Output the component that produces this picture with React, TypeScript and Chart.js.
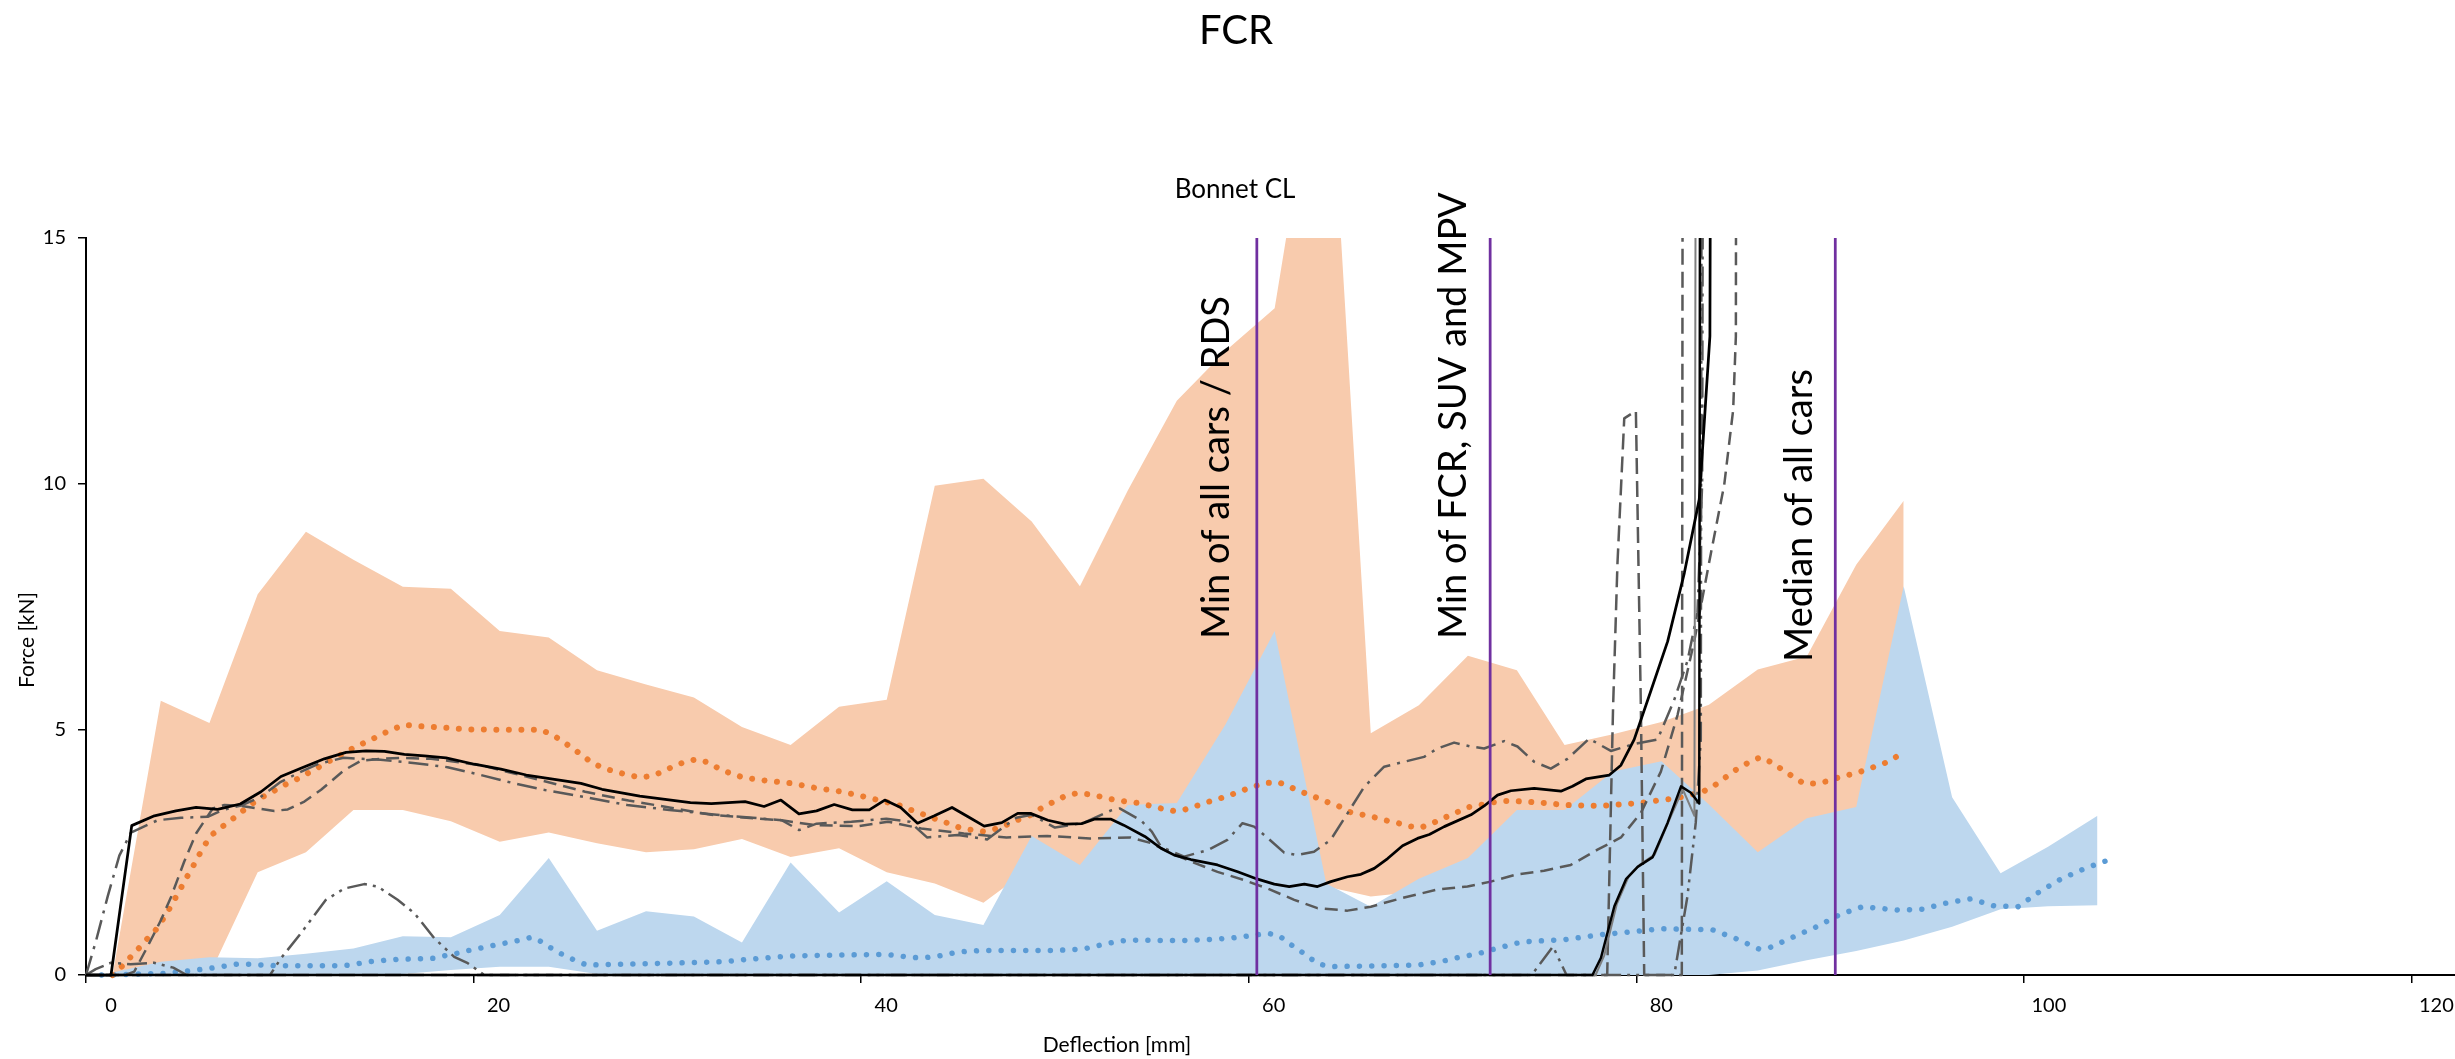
import React, { useEffect, useRef } from 'react';
import { Chart, registerables } from 'chart.js';

Chart.register(...registerables);

type P = [number, number];

const TITLE = 'FCR';
const SUBTITLE = 'Bonnet CL';
const X_TITLE = 'Deflection [mm]';
const Y_TITLE = 'Force [kN]';
const X_TICKS = [0, 20, 40, 60, 80, 100, 120];
const Y_TICKS = [0, 5, 10, 15];

// corridor (band) sample positions
const bandX = [1.37, 3.86, 6.37, 8.86, 11.35, 13.8, 16.35, 18.83, 21.35, 23.88, 26.37, 28.9, 31.37, 33.85, 36.36, 38.86, 41.32, 43.8, 46.31, 48.8, 51.29, 53.76, 56.29, 58.8, 61.34, 64.0, 66.3, 68.78, 71.31, 73.84, 76.3, 78.8, 81.3, 83.75, 86.27, 88.8, 91.35, 93.8];
const orangeHigh = [0, 5.58, 5.13, 7.75, 9.02, 8.45, 7.9, 7.86, 7.0, 6.87, 6.2, 5.91, 5.65, 5.05, 4.68, 5.46, 5.6, 9.96, 10.1, 9.23, 7.91, 9.86, 11.69, 12.7, 13.57, 20.0, 4.92, 5.49, 6.5, 6.2, 4.68, 4.9, 5.15, 5.5, 6.22, 6.48, 8.35, 9.65];
const orangeLow = [0, 0, 0, 2.09, 2.5, 3.36, 3.36, 3.13, 2.71, 2.9, 2.68, 2.5, 2.56, 2.77, 2.4, 2.58, 2.09, 1.86, 1.47, 2.2, 2.1, 2.8, 3.0, 3.2, 3.2, 1.8, 1.6, 1.7, 2.0, 2.5, 2.8, 3.0, 3.2, 3.0, 2.3, 2.8, 3.2, 3.4];

const blueX = [...bandX, 96.3, 98.8, 101.25, 103.8];
const blueHigh = [0.05, 0.27, 0.36, 0.34, 0.43, 0.54, 0.79, 0.77, 1.22, 2.38, 0.9, 1.3, 1.19, 0.66, 2.29, 1.27, 1.91, 1.22, 1.02, 2.83, 2.24, 3.46, 3.5, 5.1, 7.0, 1.86, 1.39, 1.96, 2.38, 3.36, 3.36, 4.14, 4.35, 3.47, 2.5, 3.19, 3.42, 7.91, 3.62, 2.07, 2.61, 3.24];
const blueLow = [0, 0, 0, 0, 0, 0, 0.02, 0.1, 0.17, 0.17, 0.02,
  0, 0, 0, 0, 0, 0, 0, 0, 0, 0, 0, 0, 0, 0, 0, 0, 0, 0, 0, 0, 0, 0, 0,
  0.09, 0.3, 0.49, 0.7, 0.98, 1.34, 1.4, 1.42];

// median curves (dotted)
const orangeMedian: P[] = [[1.37, 0], [1.77, 0.14], [2.24, 0.34], [2.67, 0.52], [3.1, 0.71], [3.53, 0.88], [3.9, 1.09], [4.25, 1.31], [4.56, 1.53], [4.87, 1.75], [5.17, 1.97], [5.48, 2.18], [5.79, 2.41], [6.1, 2.63], [6.45, 2.84], [6.93, 2.99], [7.45, 3.14], [7.96, 3.3], [8.48, 3.46], [9.0, 3.6], [9.55, 3.71], [10.13, 3.85], [10.72, 3.95], [11.28, 4.07], [11.83, 4.19], [12.4, 4.32], [12.97, 4.44], [13.54, 4.57], [14.1, 4.68], [14.67, 4.78], [15.26, 4.9], [15.82, 5.0], [16.4, 5.09], [17.0, 5.07], [18.3, 5.04], [19.6, 5.0], [21.41, 4.99], [23.48, 4.99], [24.0, 4.9], [24.56, 4.77], [25.1, 4.61], [25.6, 4.48], [26.09, 4.32], [26.73, 4.21], [27.3, 4.14], [27.9, 4.08], [28.58, 4.02], [29.17, 4.05], [29.78, 4.14], [30.32, 4.25], [30.93, 4.34], [31.5, 4.39], [32.16, 4.32], [32.7, 4.19], [33.3, 4.1], [33.9, 4.02], [35.2, 3.95], [36.44, 3.9], [37.75, 3.8], [39.0, 3.73], [40.27, 3.62], [41.5, 3.5], [42.09, 3.44], [42.7, 3.34], [43.28, 3.26], [43.89, 3.17], [44.47, 3.09], [45.08, 3.0], [45.74, 2.95], [46.35, 2.92], [47.0, 2.98], [47.58, 3.07], [48.17, 3.17], [48.78, 3.26], [49.43, 3.43], [49.97, 3.53], [50.52, 3.64], [51.13, 3.7], [51.7, 3.68], [52.36, 3.63], [53.01, 3.57], [53.66, 3.53], [54.31, 3.5], [54.97, 3.44], [55.47, 3.39], [56.12, 3.34], [56.72, 3.37], [57.36, 3.45], [57.96, 3.53], [58.57, 3.6], [59.17, 3.68], [59.77, 3.77], [60.37, 3.85], [60.97, 3.91], [61.57, 3.92], [62.17, 3.82], [62.78, 3.72], [63.38, 3.63], [63.98, 3.53], [64.58, 3.45], [65.18, 3.32], [66.39, 3.22], [67.03, 3.15], [67.65, 3.1], [68.25, 3.03], [68.89, 3.0], [69.49, 3.09], [70.09, 3.2], [70.64, 3.29], [71.26, 3.41], [71.86, 3.45], [72.5, 3.51], [73.13, 3.54], [73.79, 3.54], [75.04, 3.51], [76.33, 3.46], [78.17, 3.44], [80.14, 3.5], [82.1, 3.6], [83.38, 3.72], [83.94, 3.83], [84.5, 3.99], [85.07, 4.16], [85.77, 4.32], [86.39, 4.43], [87.03, 4.32], [87.6, 4.16], [88.16, 4.02], [88.64, 3.9], [89.29, 3.9], [89.93, 3.95], [90.56, 4.04], [91.17, 4.09], [91.73, 4.16], [92.38, 4.25], [92.94, 4.33], [93.5, 4.46]];

const blueMedian: P[] = [[0.8, 0], [3.95, 0.03], [5.24, 0.08], [6.48, 0.14], [7.14, 0.18], [7.77, 0.22], [8.4, 0.22], [9.7, 0.19], [12.9, 0.19], [13.54, 0.2], [14.16, 0.24], [14.79, 0.28], [15.43, 0.3], [16.08, 0.32], [17.34, 0.33], [17.97, 0.34], [18.6, 0.4], [19.26, 0.45], [19.86, 0.51], [20.5, 0.56], [21.12, 0.61], [21.76, 0.66], [22.4, 0.71], [23.0, 0.77], [23.6, 0.66], [24.1, 0.52], [24.67, 0.4], [25.28, 0.29], [25.86, 0.2], [26.5, 0.21], [30, 0.24], [32.9, 0.27], [34.2, 0.32], [35.4, 0.36], [36.6, 0.39], [37.9, 0.4], [41.2, 0.42], [41.8, 0.4], [42.5, 0.36], [43.13, 0.35], [43.8, 0.37], [44.4, 0.42], [45.08, 0.47], [46.3, 0.5], [50.08, 0.5], [51.5, 0.53], [52.03, 0.58], [52.69, 0.64], [53.34, 0.69], [54.0, 0.71], [56.5, 0.7], [57.8, 0.72], [59.08, 0.75], [60.29, 0.81], [60.97, 0.85], [61.57, 0.8], [62.09, 0.64], [62.6, 0.51], [63.1, 0.36], [63.64, 0.22], [64.25, 0.17], [68.7, 0.2], [69.36, 0.24], [70.0, 0.28], [70.6, 0.34], [71.26, 0.39], [71.9, 0.44], [72.5, 0.51], [73.1, 0.57], [73.7, 0.64], [74.39, 0.68], [76.3, 0.72], [78.17, 0.82], [81.35, 0.94], [83.94, 0.92], [85.15, 0.74], [86.33, 0.53], [86.9, 0.56], [88.08, 0.77], [89.29, 0.98], [90.56, 1.24], [91.68, 1.39], [93.51, 1.32], [94.78, 1.34], [96.05, 1.47], [97.26, 1.55], [98.44, 1.41], [99.7, 1.39], [100.83, 1.7], [101.95, 1.96], [103.16, 2.17], [104.29, 2.33]];

// individual FCR test curves
const carA: P[] = [[0, 0], [1.29, 0], [2.36, 3.04], [3.53, 3.24], [4.64, 3.34], [5.68, 3.41], [6.79, 3.37], [7.96, 3.48], [9.03, 3.73], [10.06, 4.04], [11.09, 4.21], [12.3, 4.4], [13.42, 4.53], [14.45, 4.56], [15.4, 4.55], [16.43, 4.49], [17.46, 4.46], [18.58, 4.42], [20.04, 4.29], [21.41, 4.19], [22.72, 4.07], [25.54, 3.9], [26.63, 3.78], [28.58, 3.64], [31.19, 3.51], [32.27, 3.49], [34.01, 3.53], [34.99, 3.43], [35.86, 3.56], [36.79, 3.28], [37.7, 3.34], [38.61, 3.47], [39.55, 3.36], [40.42, 3.36], [41.22, 3.56], [42.04, 3.41], [42.91, 3.09], [43.78, 3.24], [44.69, 3.41], [45.52, 3.22], [46.35, 3.03], [47.26, 3.1], [48.08, 3.29], [48.74, 3.29], [49.64, 3.15], [50.52, 3.07], [51.38, 3.08], [52.03, 3.17], [52.9, 3.17], [53.55, 3.05], [54.64, 2.82], [55.47, 2.58], [56.16, 2.44], [57.02, 2.35], [58.39, 2.24], [59.43, 2.1], [60.46, 1.95], [61.32, 1.85], [62.09, 1.8], [62.87, 1.85], [63.55, 1.8], [64.24, 1.9], [65.1, 2.0], [65.79, 2.05], [66.48, 2.17], [67.17, 2.37], [67.94, 2.63], [68.71, 2.78], [69.32, 2.86], [70.09, 3.02], [71.47, 3.26], [72.15, 3.44], [72.84, 3.66], [73.53, 3.75], [74.73, 3.8], [76.11, 3.74], [76.71, 3.84], [77.4, 3.99], [78.61, 4.07], [79.21, 4.27], [79.89, 4.79], [80.76, 5.79], [81.62, 6.79], [82.48, 8.18], [83.25, 9.68], [83.8, 13.0], [83.85, 20]];

const carB: P[] = [[0, 0], [77.74, 0], [78.18, 0.35], [78.87, 1.4], [79.47, 1.95], [80.07, 2.2], [80.85, 2.4], [81.62, 3.1], [82.31, 3.84], [82.82, 3.71], [83.25, 3.49], [83.3, 20]];
const carB2: P[] = [[0, 0], [77.9, 0], [78.35, 0.4], [79.0, 1.45], [79.6, 2.0], [80.2, 2.25], [80.95, 2.45], [81.7, 3.15], [82.4, 3.78], [83.0, 3.24], [83.08, 20]];

const carD: P[] = [[0, 0], [2.0, 0], [2.49, 0.07], [3.18, 0.58], [3.87, 1.12], [4.39, 1.59], [5.07, 2.31], [5.68, 2.88], [6.54, 3.39], [7.14, 3.46], [8.0, 3.44], [8.86, 3.39], [9.72, 3.34], [10.41, 3.37], [11.27, 3.53], [12.13, 3.77], [13.33, 4.17], [14.19, 4.36], [15.22, 4.4], [16.25, 4.42], [17.8, 4.4], [18.66, 4.36], [20.38, 4.27], [22.1, 4.1], [23.59, 3.95], [25.76, 3.73], [28.0, 3.55], [30.1, 3.41], [32.27, 3.26], [34.44, 3.19], [35.9, 3.15], [37.6, 3.05], [39.87, 3.03], [41.39, 3.12], [43.1, 2.98], [45.3, 2.88], [47.5, 2.8], [49.6, 2.83], [51.8, 2.78], [53.9, 2.8], [55.0, 2.68], [56.0, 2.48], [57.02, 2.31], [58.39, 2.1], [59.77, 1.93], [60.97, 1.76], [62.35, 1.53], [63.55, 1.36], [65.1, 1.31], [66.3, 1.39], [67.85, 1.56], [69.74, 1.74], [71.29, 1.8], [72.49, 1.9], [73.87, 2.05], [75.24, 2.12], [76.62, 2.24], [78.0, 2.55], [79.21, 2.8], [80.24, 3.3], [81.27, 4.14], [82.13, 5.29], [82.99, 6.79], [83.85, 8.58], [84.54, 9.98], [85.0, 11.5], [85.14, 13], [85.16, 20]];

const carE: P[] = [[0, 0], [0.52, 0.7], [1.12, 1.6], [1.72, 2.43], [2.32, 2.9], [3.7, 3.15], [4.9, 3.2], [6.28, 3.22], [7.0, 3.35], [8.0, 3.45], [9.0, 3.62], [10.0, 3.92], [11.0, 4.12], [12.0, 4.3], [13.3, 4.42], [15.2, 4.38], [17.0, 4.31], [18.66, 4.23], [20.38, 4.07], [22.1, 3.9], [23.59, 3.77], [25.76, 3.62], [27.93, 3.46], [30.1, 3.36], [32.27, 3.27], [34.4, 3.2], [35.9, 3.15], [36.8, 2.95], [37.7, 3.08], [39.5, 3.12], [41.3, 3.18], [42.5, 3.12], [43.4, 2.8], [45.0, 2.85], [46.5, 2.76], [48.0, 3.2], [48.8, 3.26], [50.0, 3.0], [51.5, 3.1], [52.9, 3.35], [53.34, 3.39], [54.43, 3.15], [55.0, 2.92], [55.47, 2.61], [56.67, 2.41], [57.87, 2.54], [58.9, 2.75], [59.68, 3.09], [60.28, 3.02], [60.8, 2.85], [61.83, 2.49], [62.5, 2.44], [63.37, 2.51], [64.23, 2.75], [65.1, 3.29], [65.96, 3.83], [66.99, 4.24], [68.02, 4.34], [69.05, 4.44], [69.74, 4.61], [70.6, 4.73], [71.46, 4.65], [72.15, 4.61], [73.18, 4.76], [73.87, 4.65], [74.73, 4.34], [75.59, 4.2], [76.45, 4.4], [77.57, 4.81], [78.69, 4.56], [79.89, 4.7], [81.09, 4.79], [81.95, 5.59], [82.64, 6.39], [83.16, 7.38], [83.4, 10], [83.45, 20]];

const carF: P[] = [[0, 0], [0.5, 0.12], [1.3, 0.25], [2.3, 0.22], [3.5, 0.25], [4.5, 0.15], [5.2, 0], [9.5, 0], [10.06, 0.34], [11.09, 0.85], [12.38, 1.53], [13.33, 1.76], [14.36, 1.85], [15.05, 1.8], [16.08, 1.53], [16.94, 1.26], [17.97, 0.75], [19.0, 0.37], [19.7, 0.24], [20.55, 0], [74.6, 0], [75.7, 0.58], [76.4, 0], [81.96, 0], [82.64, 1.6], [83.07, 3.1], [83.33, 4.79], [83.38, 20]];

const carG: P[] = [[0, 0], [78.5, 0], [78.8, 5.4], [79.03, 8.38], [79.38, 11.33], [79.98, 11.48], [80.07, 9.38], [80.24, 5.39], [80.41, 0], [82.35, 0], [82.4, 20]];

const markerX = [60.42, 72.46, 90.27];
const markerLabels = ['Min of all cars / RDS', 'Min of FCR, SUV and MPV', 'Median of all cars'];

const FONT = 'Lato, "Open Sans", sans-serif';

const xy = (xs: number[], ys: number[]) => xs.map((x, i) => ({ x, y: ys[i] }));
const pts = (arr: P[]) => arr.map(([x, y]) => ({ x, y }));

const lineClip = { left: 4, right: 4, top: 0, bottom: 4 };

export default function App() {
  const ref = useRef<HTMLCanvasElement | null>(null);

  useEffect(() => {
    if (!ref.current) return;

    const textPlugin = {
      id: 'textOverlay',
      afterDraw(chart: any) {
        const ctx = chart.ctx as CanvasRenderingContext2D;
        const xs = chart.scales.x;
        ctx.save();
        ctx.fillStyle = '#000';
        ctx.textAlign = 'center';
        ctx.textBaseline = 'middle';
        ctx.font = `40px ${FONT}`;
        ctx.fillText(TITLE, 1236, 31);
        ctx.font = `26px ${FONT}`;
        ctx.fillText(SUBTITLE, 1235, 190);
        ctx.font = `21px ${FONT}`;
        ctx.fillText(X_TITLE, 1117, 1045);
        ctx.save();
        ctx.translate(27, 640);
        ctx.rotate(-Math.PI / 2);
        ctx.fillText(Y_TITLE, 0, 0);
        ctx.restore();

        const offsets = [28, 24, 23];
        const bottoms = [639, 639, 662];
        ctx.font = `38px ${FONT}`;
        ctx.textAlign = 'left';
        ctx.textBaseline = 'alphabetic';
        markerX.forEach((mx, i) => {
          const px = xs.getPixelForValue(mx);
          ctx.save();
          ctx.translate(px - offsets[i], bottoms[i]);
          ctx.rotate(-Math.PI / 2);
          ctx.fillText(markerLabels[i], 0, 0);
          ctx.restore();
        });
        ctx.restore();
      },
    };

    const gray = '#595959';
    const lineBase = { pointRadius: 0, fill: false, tension: 0, clip: lineClip, borderJoinStyle: 'round' as const };

    const chart = new Chart(ref.current, {
      type: 'line',
      data: {
        datasets: [
          { data: xy(bandX, orangeLow), borderWidth: 0, borderColor: 'rgba(0,0,0,0)', pointRadius: 0, fill: false, order: 10 },
          { data: xy(bandX, orangeHigh), borderWidth: 0, borderColor: 'rgba(0,0,0,0)', backgroundColor: '#F8CBAD', pointRadius: 0, fill: '-1', order: 10 },
          { data: xy(blueX, blueLow), borderWidth: 0, borderColor: 'rgba(0,0,0,0)', pointRadius: 0, fill: false, order: 9 },
          { data: xy(blueX, blueHigh), borderWidth: 0, borderColor: 'rgba(0,0,0,0)', backgroundColor: '#BDD7EE', pointRadius: 0, fill: '-1', order: 9 },
          { ...lineBase, data: pts(orangeMedian), borderColor: '#ED7D31', borderWidth: 6, borderDash: [0.01, 12.5], borderCapStyle: 'round', order: 7 },
          { ...lineBase, data: pts(blueMedian), borderColor: '#5B9BD5', borderWidth: 5.5, borderDash: [0.01, 12.3], borderCapStyle: 'round', order: 7 },
          { ...lineBase, data: pts(carB2), borderColor: '#7f7f7f', borderWidth: 2, order: 5 },
          { ...lineBase, data: pts(carG), borderColor: gray, borderWidth: 2.5, borderDash: [16, 7], order: 5 },
          { ...lineBase, data: pts(carF), borderColor: gray, borderWidth: 2.5, borderDash: [20, 6, 3, 6, 3, 6], order: 5 },
          { ...lineBase, data: pts(carE), borderColor: gray, borderWidth: 2.5, borderDash: [20, 7, 3, 7], order: 5 },
          { ...lineBase, data: pts(carD), borderColor: gray, borderWidth: 2.5, borderDash: [13, 7], order: 5 },
          { ...lineBase, data: pts(carB), borderColor: '#000', borderWidth: 2.5, order: 4 },
          { ...lineBase, data: pts(carA), borderColor: '#000', borderWidth: 2.75, order: 4 },
          ...markerX.map((mx) => ({
            data: [{ x: mx, y: 0 }, { x: mx, y: 15 }],
            borderColor: '#7030A0',
            borderWidth: 2.75,
            pointRadius: 0,
            fill: false,
            order: 1,
          })),
        ] as any,
      },
      options: {
        responsive: false,
        devicePixelRatio: 1,
        animation: false,
        events: [],
        layout: { padding: { top: 238, left: 0, right: 0, bottom: 0 } },
        plugins: {
          legend: { display: false },
          tooltip: { enabled: false },
          title: { display: false },
        },
        scales: {
          x: {
            type: 'linear',
            min: 0,
            max: 122.25,
            afterFit: (s: any) => { s.height = 84; },
            afterBuildTicks: (s: any) => { s.ticks = X_TICKS.map((v) => ({ value: v })); },
            ticks: {
              font: { family: FONT, size: 20 },
              color: '#000',
              padding: 11,
              labelOffset: 25,
              maxRotation: 0,
              autoSkip: false,
            },
            grid: { display: true, drawOnChartArea: false, drawTicks: true, tickLength: 8, color: '#000', lineWidth: 1.5 },
            border: { display: true, color: '#000', width: 2 },
          },
          y: {
            type: 'linear',
            min: 0,
            max: 15,
            afterFit: (s: any) => { s.width = 86; },
            afterBuildTicks: (s: any) => { s.ticks = Y_TICKS.map((v) => ({ value: v })); },
            ticks: {
              font: { family: FONT, size: 20 },
              color: '#000',
              padding: 12,
            },
            grid: { display: true, drawOnChartArea: false, drawTicks: true, tickLength: 8, color: '#000', lineWidth: 1.5 },
            border: { display: true, color: '#000', width: 2 },
          },
        },
      } as any,
      plugins: [textPlugin],
    });

    return () => chart.destroy();
  }, []);

  return (
    <div style={{ position: 'fixed', left: 0, top: 0, width: 2455, height: 1059, background: '#fff' }}>
      <canvas ref={ref} width={2455} height={1059} style={{ display: 'block', width: 2455, height: 1059 }} />
    </div>
  );
}
